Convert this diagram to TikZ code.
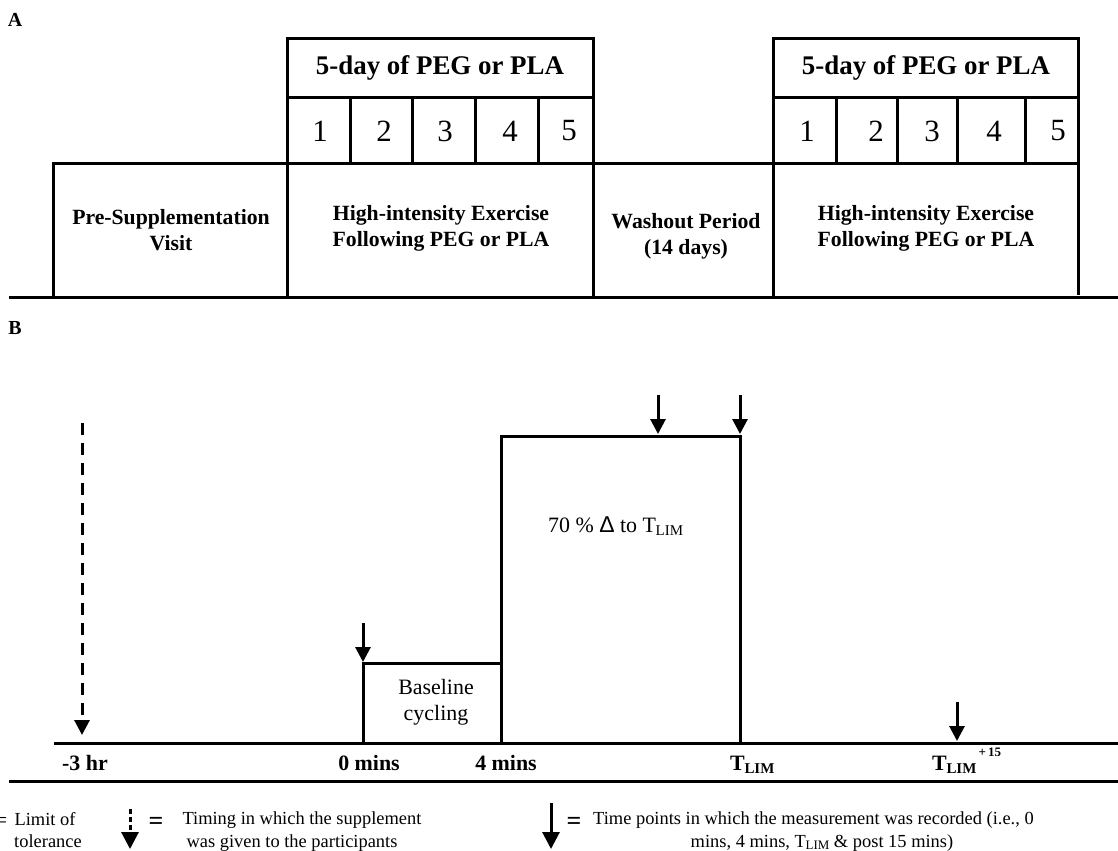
\documentclass[tikz,border=0pt]{standalone}
\usepackage{fontspec}
\setmainfont{Liberation Serif}
\newfontfamily\sansdelta{Liberation Sans}
\usetikzlibrary{arrows.meta}
\newcommand{\fsz}[1]{\fontsize{#1}{#1}\selectfont}
\newcommand{\tlimb}{T\kern-0.3pt\raisebox{-0.32ex}{\fsz{15}LIM}}
\newcommand{\tlimr}{T\kern-0.3pt\raisebox{-0.32ex}{\fsz{15}LIM}}
\newcommand{\tlimleg}{T\kern-0.3pt\raisebox{-0.3ex}{\fsz{13}LIM}}
\begin{document}
\begin{tikzpicture}[x=1bp,y=-1bp,
  ln/.style={line width=3bp, line cap=rect},
  arr/.style={line width=3bp, -{Triangle[width=15bp,length=15bp]}},
  darr/.style={arr, dash pattern=on 12bp off 8bp},
  legarr/.style={line width=3bp, -{Triangle[width=17bp,length=17bp]}},
  hdr/.style={font=\bfseries\fsz{27}, inner sep=0pt},
  day/.style={font=\fsz{31}, inner sep=0pt},
  blbl/.style={font=\bfseries\fontsize{21.8}{26}\selectfont, align=center, inner sep=0pt},
  axl/.style={font=\bfseries\fsz{22}, inner sep=0pt, anchor=base},
  txt/.style={font=\fontsize{22}{26}\selectfont, align=center, inner sep=0pt},
  leg/.style={font=\fsz{18.5}, inner sep=0pt, anchor=base},
  eqs/.style={font=\bfseries\fsz{26}, inner sep=0pt},
  panel/.style={font=\bfseries\fsz{20}, inner sep=0pt}
]
\useasboundingbox (0,0) rectangle (1118,851);

% ---------------- Panel A ----------------
\node[panel] (la) at (15,20) {A};
\draw[ln] (10,297) -- (1118,297);
\draw[ln] (53,297) -- (53,163) -- (1078,163);
\draw[ln] (287,297) -- (287,38) -- (593,38) -- (593,297);
\draw[ln] (287,97) -- (593,97);
\draw[ln] (773,297) -- (773,38) -- (1078,38) -- (1078,293);
\draw[ln] (773,97) -- (1078,97);
\foreach \x in {350,412,475,538,836,897,957,1025}
  \draw[ln] (\x,97) -- (\x,163);

\node[hdr] (h1) at (440,68) {5-day of PEG or PLA};
\node[hdr] (h2) at (926,68) {5-day of PEG or PLA};
\foreach \x/\d [count=\i] in {320/1,384/2,445/3,510/4,569/5}
  \node[day] (da\i) at (\x,131) {\d};
\foreach \x/\d [count=\i] in {807/1,876/2,932/3,994/4,1058/5}
  \node[day] (db\i) at (\x,131) {\d};

\node[blbl] (pre) at (171,230) {Pre-Supplementation\\Visit};
\node[blbl] (hi1) at (441,228) {High-intensity Exercise\\Following PEG or PLA};
\node[blbl] (wash) at (686,236) {Washout Period\\(14 days)};
\node[blbl] (hi2) at (926,228) {High-intensity Exercise\\Following PEG or PLA};

% ---------------- Panel B ----------------
\node[panel] (lb) at (15,328) {B};
\draw[ln] (55,743) -- (1118,743);
\draw[ln] (10,781) -- (1118,781);
\draw[ln] (363,743) -- (363,663) -- (501,663);
\draw[ln] (501,743) -- (501,436) -- (740,436) -- (740,743);

\coordinate (s0) at (82,423);  \coordinate (e0) at (82,735);
\coordinate (s1) at (363,623); \coordinate (e1) at (363,662);
\coordinate (s2) at (658,395); \coordinate (e2) at (658,434);
\coordinate (s3) at (740,395); \coordinate (e3) at (740,434);
\coordinate (s4) at (957,702); \coordinate (e4) at (957,741);
\draw[darr] (s0) -- (e0);
\draw[arr] (s1) -- (e1);
\draw[arr] (s2) -- (e2);
\draw[arr] (s3) -- (e3);
\draw[arr] (s4) -- (e4);

\node[txt] (base) at (436,702) {Baseline\\cycling};
\node[txt, anchor=base west] (pct) at (548,532) {70 \% {\sansdelta\fsz{23}\char"0394} to \tlimr};

\node[axl] (t0) at (85,770) {-3 hr};
\node[axl] (t1) at (369,770) {0 mins};
\node[axl] (t2) at (506,770) {4 mins};
\node[axl, anchor=base west] (t3) at (730,770) {\tlimb};
\node[axl, anchor=base west] (t4) at (932,770) {\tlimb\raisebox{1.3ex}{\fsz{13}\,+\,15}};

% ---------------- Legend ----------------
\node[font=\fsz{22}, inner sep=0pt] (eq0) at (1,822) {=};
\node[leg] (lim1) at (45,825) {Limit of};
\node[leg] (lim2) at (48,847) {tolerance};

\coordinate (ls1) at (130,809); \coordinate (le1) at (130,849);
\draw[legarr, dash pattern=on 5bp off 3bp] (ls1) -- (le1);
\node[eqs] (eq1) at (156,823) {=};
\node[leg] (tim1) at (302,824) {Timing in which the supplement};
\node[leg] (tim2) at (292,847) {was given to the participants};

\coordinate (ls2) at (551,803); \coordinate (le2) at (551,849);
\draw[legarr] (ls2) -- (le2);
\node[eqs] (eq2) at (574,823) {=};
\node[leg, anchor=base west] (tp1) at (593,824) {Time points in which the measurement was recorded (i.e., 0};
\node[leg] (tp2) at (822,847) {mins, 4 mins, \tlimleg\ \& post 15 mins)};
\end{tikzpicture}
\end{document}
